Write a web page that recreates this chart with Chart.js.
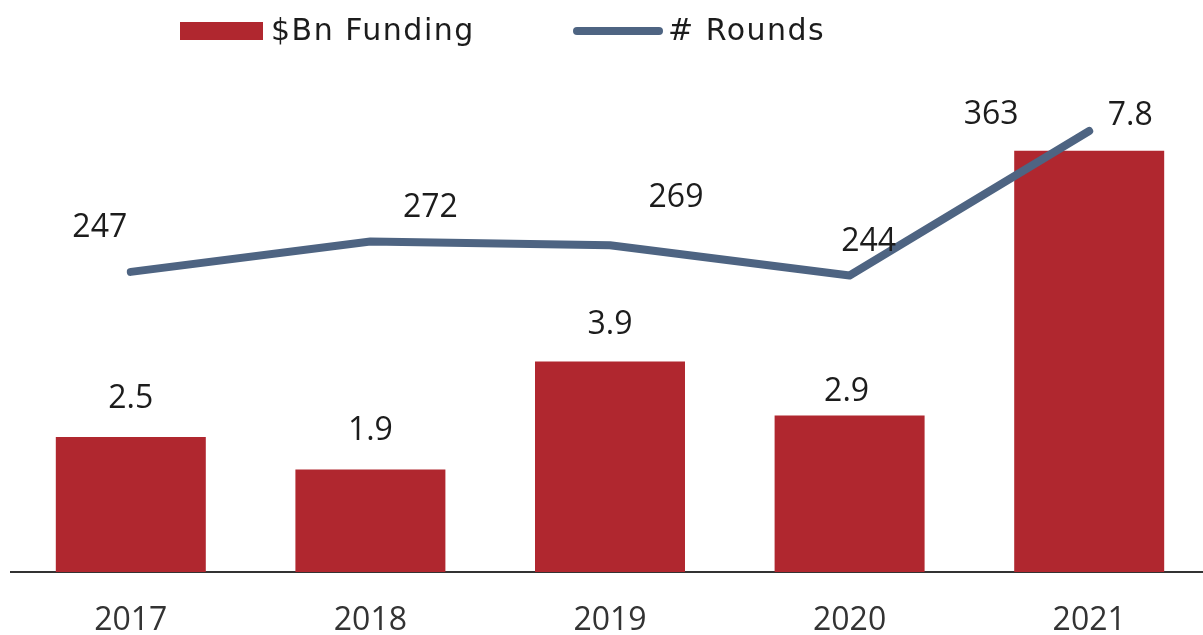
<!DOCTYPE html>
<html lang="en">

<head>
    <meta charset="UTF-8">
    <meta name="viewport" content="width=device-width, initial-scale=1.0">
    <script src="https://cdn.jsdelivr.net/npm/chart.js"></script>
    <title>Funding and rounds</title>
    <style>
        html, body { margin: 0; padding: 0; background: #fff; overflow: hidden; }
        .chart-container { position: relative; width: 1209px; height: 635px; }
    </style>
</head>

<body>
    <div class="chart-container">
        <canvas id="myChart"></canvas>
    </div>
    <script>
        // data
        var years = ['2017', '2018', '2019', '2020', '2021']
        var funding = [2.5, 1.9, 3.9, 2.9, 7.8]
        var rounds = [247, 272, 269, 244, 363]

        var barColor = '#b0272f'
        var lineColor = '#4e6482'
        var textColor = '#1c1c1c'

        // where each value label sits relative to its mark
        var fundingLabelShift = [[0, -38], [0, -39], [0, -37], [-3, -24], [41, -35]]
        var roundsLabelShift = [[-31, -44], [60, -34], [66, -47], [19, -34], [-98, -16]]

        const valueLabels = {
            id: 'valueLabels',
            afterDatasetsDraw(chart) {
                const ctx = chart.ctx
                ctx.save()
                ctx.font = '32px "Open Sans"'
                ctx.fillStyle = textColor
                ctx.textAlign = 'center'
                ctx.textBaseline = 'middle'
                chart.getDatasetMeta(0).data.forEach(function(bar, i) {
                    var s = fundingLabelShift[i]
                    ctx.fillText(funding[i].toFixed(1), bar.x + s[0], bar.y + s[1])
                })
                chart.getDatasetMeta(1).data.forEach(function(pt, i) {
                    var s = roundsLabelShift[i]
                    ctx.fillText(String(rounds[i]), pt.x + s[0], pt.y + s[1])
                })
                ctx.restore()
            }
        }

        // legend drawn by hand so it can sit off-centre like the original
        const topLegend = {
            id: 'topLegend',
            afterDraw(chart) {
                const ctx = chart.ctx
                const ds = chart.data.datasets
                ctx.save()
                ctx.font = '30px "DejaVu Sans"'
                ctx.letterSpacing = '1.5px'
                ctx.textBaseline = 'middle'
                ctx.textAlign = 'left'

                ctx.fillStyle = ds[0].backgroundColor
                ctx.fillRect(180, 22, 83, 18)
                ctx.fillStyle = textColor
                ctx.fillText(ds[0].label, 271, 32)

                ctx.strokeStyle = ds[1].borderColor
                ctx.lineWidth = 8
                ctx.lineCap = 'round'
                ctx.beginPath()
                ctx.moveTo(577, 31)
                ctx.lineTo(659, 31)
                ctx.stroke()
                ctx.fillText(ds[1].label, 668, 32)
                ctx.restore()
            }
        }

        var ctx = document.getElementById('myChart')
        var myChart = new Chart(ctx, {
            type: 'bar',
            data: {
                labels: years,
                datasets: [{
                    type: 'bar',
                    label: '$Bn Funding',
                    data: funding,
                    backgroundColor: barColor,
                    categoryPercentage: 1,
                    barPercentage: 0.626,
                    yAxisID: 'y',
                    order: 2
                }, {
                    type: 'line',
                    label: '# Rounds',
                    data: rounds,
                    borderColor: lineColor,
                    backgroundColor: lineColor,
                    borderWidth: 8,
                    borderCapStyle: 'round',
                    borderJoinStyle: 'round',
                    pointRadius: 0,
                    tension: 0,
                    yAxisID: 'y1',
                    order: 1
                }]
            },
            options: {
                responsive: true,
                maintainAspectRatio: false,
                animation: false,
                layout: { padding: { top: 86, left: 11, right: 0, bottom: 0 } },
                plugins: {
                    legend: { display: false },
                    tooltip: { enabled: false }
                },
                scales: {
                    x: {
                        grid: { display: false, drawTicks: false },
                        border: { display: true, color: '#333333', width: 2 },
                        ticks: {
                            color: '#333333',
                            font: { family: 'Open Sans', size: 32, lineHeight: 1.2 },
                            padding: 30,
                            maxRotation: 0
                        },
                        afterFit: function(scale) { scale.height = 63 }
                    },
                    y: { display: false, min: 0, max: 9 },
                    y1: { display: false, min: 0, max: 400 }
                }
            },
            plugins: [valueLabels, topLegend]
        });
    </script>

</body>

</html>
